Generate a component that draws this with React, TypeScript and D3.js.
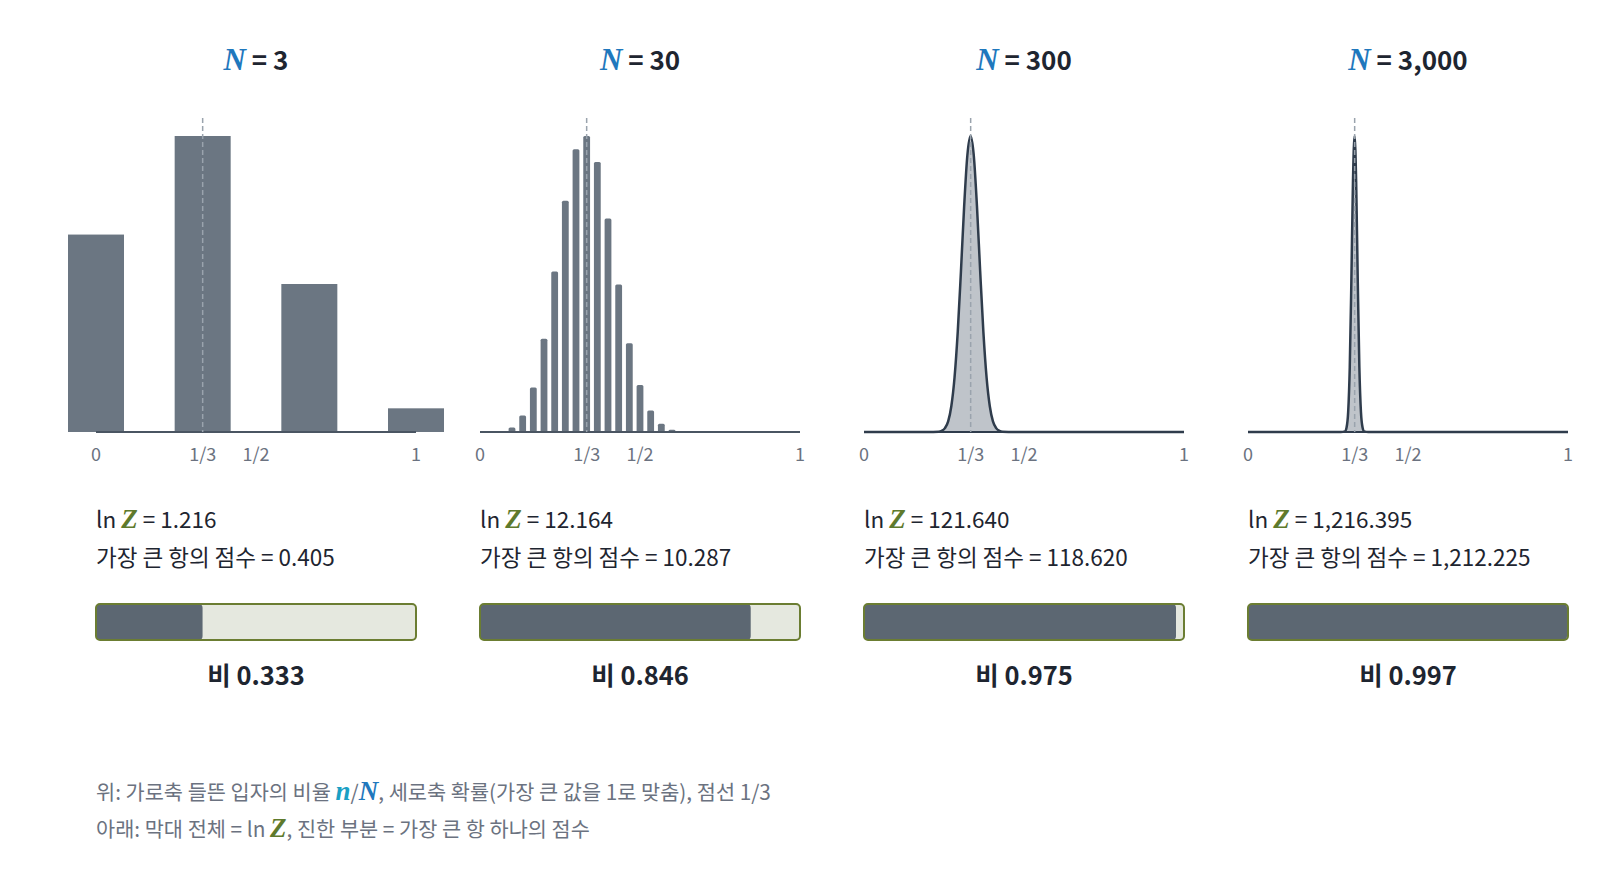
import React from 'react';
import * as d3 from 'd3';

// panel settings
const panelN = [3, 30, 300, 3000];
const titleLabels = ['3', '30', '300', '3,000'];
const lnZLabels = ['1.216', '12.164', '121.640', '1,216.395'];
const scoreLabels = ['0.405', '10.287', '118.620', '1,212.225'];
const ratios = [0.333, 0.846, 0.975, 0.997];
const ratioLabels = ['0.333', '0.846', '0.975', '0.997'];

const tickValues = [0, 1 / 3, 1 / 2, 1];
const tickLabels = ['0', '1/3', '1/2', '1'];

// normalised probabilities (largest = 1)
const barsN3 = [0.667, 1, 0.5, 0.08];
const barsN30 = [
  0, 0, 0.003, 0.015, 0.056, 0.15, 0.315, 0.542, 0.781, 0.955, 1, 0.912, 0.721, 0.498, 0.3, 0.159,
  0.073, 0.028, 0.008, 0.002, 0, 0, 0, 0, 0, 0, 0, 0, 0, 0, 0,
];

// smooth curves: n/N positions and heights
const curve300X = [0, 0.2, 0.233, 0.243, 0.253, 0.263, 0.273, 0.283, 0.293, 0.303, 0.313, 0.323, 0.333,
  0.343, 0.353, 0.363, 0.373, 0.383, 0.393, 0.403, 0.413, 0.423, 0.433, 0.47, 1];
const curve300Y = [0, 0, 0.001, 0.004, 0.013, 0.036, 0.088, 0.185, 0.339, 0.544, 0.763, 0.935, 1,
  0.935, 0.763, 0.544, 0.339, 0.185, 0.088, 0.036, 0.013, 0.004, 0.001, 0, 0];
const curve3000X = [0, 0.29, 0.303, 0.308, 0.313, 0.318, 0.323, 0.328, 0.333, 0.338, 0.343, 0.348,
  0.353, 0.358, 0.363, 0.376, 1];
const curve3000Y = [0, 0, 0.002, 0.015, 0.067, 0.219, 0.509, 0.845, 1, 0.845, 0.509, 0.219, 0.067,
  0.015, 0.002, 0, 0];

const W = 1600;
const H = 896;
const panelX0 = 96;
const panelStep = 384;
const panelW = 320;
const baseY = 432;
const topY = 136;

const FONT = '"Noto Sans CJK KR", "Noto Sans", sans-serif';
const SERIF = '"Liberation Serif", "DejaVu Serif", serif';
const BAR = '#6b7682';
const DARK = '#5c6772';
const AXIS = '#4a5562';
const BLUE = '#1f78bd';
const OLIVE = '#5e7a2c';

const Panel: React.FC<{ i: number }> = ({ i }) => {
  const x0 = panelX0 + i * panelStep;
  const N = panelN[i];
  const x = d3.scaleLinear().domain([0, 1]).range([x0, x0 + panelW]);
  const y = d3.scaleLinear().domain([0, 1]).range([baseY, topY]);
  const cx = x0 + panelW / 2;

  let marks: React.ReactNode = null;
  if (i === 0 || i === 1) {
    const vals = i === 0 ? barsN3 : barsN30;
    const bw = i === 0 ? 56 : 6.8;
    marks = vals.map((v, n) =>
      v > 0 ? (
        <rect
          key={n}
          x={x(n / N) - bw / 2}
          y={y(v)}
          width={bw}
          height={baseY - y(v)}
          rx={i === 0 ? 0 : 1.5}
          fill={BAR}
        />
      ) : null
    );
  } else {
    const xs = i === 2 ? curve300X : curve3000X;
    const ys = i === 2 ? curve300Y : curve3000Y;
    const pts = xs.map((v, k) => [v, ys[k]] as [number, number]);
    const area = d3
      .area<[number, number]>()
      .x((d) => x(d[0]))
      .y0(baseY)
      .y1((d) => y(d[1]))
      .curve(d3.curveMonotoneX);
    const line = d3
      .line<[number, number]>()
      .x((d) => x(d[0]))
      .y((d) => y(d[1]))
      .curve(d3.curveMonotoneX);
    marks = (
      <g>
        <path d={area(pts) || ''} fill="#bfc4ca" />
        <path d={line(pts) || ''} fill="none" stroke="#2f3c4c" strokeWidth={2.5} strokeLinejoin="round" />
      </g>
    );
  }

  const barX = d3.scaleLinear().domain([0, 1]).range([x0, x0 + panelW]);

  return (
    <g>
      <text x={cx} y={70} textAnchor="middle" fontFamily={FONT} fontSize={26} fontWeight={700} fill="#1e2530">
        <tspan fontFamily={SERIF} fontStyle="italic" fontWeight={700} fill={BLUE} fontSize={31}>
          N
        </tspan>
        <tspan> = {titleLabels[i]}</tspan>
      </text>

      {marks}
      <line x1={x(0)} x2={x(1)} y1={baseY} y2={baseY} stroke={i < 2 ? AXIS : '#2f3c4c'} strokeWidth={2} />
      <line
        x1={x(1 / 3)}
        x2={x(1 / 3)}
        y1={118}
        y2={baseY}
        stroke="#9aa3ad"
        strokeWidth={1.5}
        strokeDasharray="5,3"
      />
      {tickValues.map((t, k) => (
        <text
          key={k}
          x={x(t)}
          y={461}
          textAnchor="middle"
          fontFamily={FONT}
          fontSize={18}
          fill="#6b7280"
        >
          {tickLabels[k]}
        </text>
      ))}

      <text x={x0} y={528} fontFamily={FONT} fontSize={22.5} fill="#1e2530">
        ln{' '}
        <tspan fontFamily={SERIF} fontStyle="italic" fontWeight={700} fill={OLIVE} fontSize={27}>
          Z
        </tspan>{' '}
        = {lnZLabels[i]}
      </text>
      <text x={x0} y={566} fontFamily={FONT} fontSize={22.5} fill="#1e2530">
        가장 큰 항의 점수 = {scoreLabels[i]}
      </text>

      <rect x={barX(0)} y={604} width={panelW} height={36} rx={4} fill="#e5e8df" />
      <rect x={barX(0)} y={604} width={barX(ratios[i]) - barX(0)} height={36} rx={4} fill={DARK} />
      <rect x={barX(0)} y={604} width={panelW} height={36} rx={4} fill="none" stroke="#6b7d32" strokeWidth={2} />

      <text x={cx} y={685} textAnchor="middle" fontFamily={FONT} fontSize={25.5} fontWeight={700} fill="#1e2530">
        비 {ratioLabels[i]}
      </text>
    </g>
  );
};

export default function App() {
  return (
    <div style={{ position: 'absolute', left: 0, top: 0, width: W, height: H, background: '#fff' }}>
      <svg width={W} height={H} viewBox={`0 0 ${W} ${H}`}>
        <rect width={W} height={H} fill="#fff" />
        {panelN.map((_, i) => (
          <Panel key={i} i={i} />
        ))}
        <text x={96} y={800} fontFamily={FONT} fontSize={20.8} fill="#6b7280">
          위: 가로축 들뜬 입자의 비율{' '}
          <tspan fontFamily={SERIF} fontStyle="italic" fontWeight={700} fill="#1aa0c4" fontSize={27}>
            n
          </tspan>
          /
          <tspan fontFamily={SERIF} fontStyle="italic" fontWeight={700} fill={BLUE} fontSize={27}>
            N
          </tspan>
          , 세로축 확률(가장 큰 값을 1로 맞춤), 점선 1/3
        </text>
        <text x={96} y={837} fontFamily={FONT} fontSize={20.8} fill="#6b7280">
          아래: 막대 전체 = ln{' '}
          <tspan fontFamily={SERIF} fontStyle="italic" fontWeight={700} fill={OLIVE} fontSize={27}>
            Z
          </tspan>
          , 진한 부분 = 가장 큰 항 하나의 점수
        </text>
      </svg>
    </div>
  );
}
